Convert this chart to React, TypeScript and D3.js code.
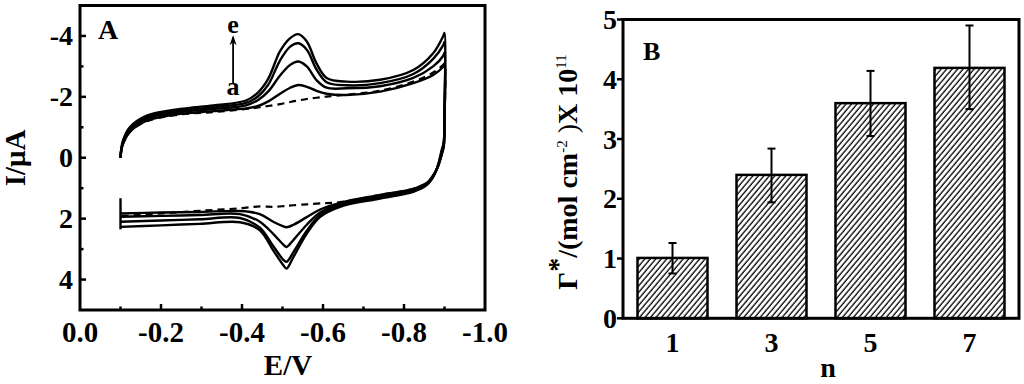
import React from "react";
import * as d3 from "d3";

// ---------- Panel A data (cyclic voltammograms) ----------
const LOOP_E = [
  -0.1, -0.102, -0.107, -0.123, -0.165, -0.247, -0.329, -0.41, -0.44, -0.465, -0.494,
  -0.519, -0.539, -0.56, -0.584, -0.609, -0.658, -0.741, -0.823, -0.872, -0.897, -0.9,
  -0.9, -0.898, -0.893, -0.886, -0.88, -0.868, -0.856, -0.823, -0.741, -0.642, -0.593,
  -0.56, -0.527, -0.51, -0.502, -0.477, -0.444, -0.395, -0.296, -0.2, -0.1,
];
const CURVE_E_I = [
  0, -0.3, -0.6, -1.0, -1.38, -1.6, -1.72, -1.88, -2.15, -2.6, -3.5,
  -3.93, -4.06, -3.82, -3.1, -2.62, -2.5, -2.56, -2.88, -3.43, -4.0, -4.1,
  -1.5, -0.5, -0.25, 0.15, 0.4, 0.72, 0.9, 1.12, 1.34, 1.61, 1.94,
  2.49, 3.26, 3.64, 3.53, 3.04, 2.38, 2.12, 2.17, 2.22, 2.27,
];
const CURVE_D_I = [
  0, -0.28, -0.56, -0.95, -1.33, -1.55, -1.66, -1.8, -2.02, -2.4, -3.2,
  -3.65, -3.76, -3.55, -2.9, -2.48, -2.38, -2.45, -2.75, -3.25, -3.7, -3.8,
  -1.4, -0.45, -0.2, 0.17, 0.4, 0.7, 0.87, 1.08, 1.3, 1.57, 1.88,
  2.4, 3.1, 3.42, 3.35, 2.9, 2.3, 1.98, 2.02, 2.06, 2.1,
];
const CURVE_C_I = [
  0, -0.26, -0.52, -0.9, -1.28, -1.5, -1.6, -1.72, -1.9, -2.18, -2.7,
  -3.05, -3.16, -3.0, -2.55, -2.3, -2.28, -2.35, -2.62, -3.0, -3.35, -3.45,
  -1.3, -0.4, -0.15, 0.2, 0.4, 0.68, 0.85, 1.05, 1.26, 1.52, 1.8,
  2.2, 2.7, 2.93, 2.85, 2.5, 2.1, 1.85, 1.88, 1.91, 1.94,
];
const CURVE_B_I = [
  0, -0.24, -0.48, -0.85, -1.22, -1.44, -1.53, -1.62, -1.7, -1.85, -2.1,
  -2.3, -2.39, -2.33, -2.2, -2.1, -2.06, -2.17, -2.45, -2.72, -2.99, -3.05,
  -1.2, -0.35, -0.1, 0.22, 0.4, 0.66, 0.83, 1.02, 1.22, 1.48, 1.7,
  1.95, 2.2, 2.28, 2.25, 2.1, 1.85, 1.75, 1.78, 1.8, 1.83,
];
const CURVE_A_I = [
  0, -0.24, -0.48, -0.85, -1.2, -1.42, -1.5, -1.6, -1.65, -1.7, -1.76,
  -1.83, -1.88, -1.93, -1.97, -2.01, -2.07, -2.2, -2.5, -2.8, -3.05, -3.1,
  -1.2, -0.35, -0.1, 0.22, 0.4, 0.66, 0.83, 1.02, 1.22, 1.46, 1.5,
  1.53, 1.56, 1.58, 1.59, 1.61, 1.6, 1.66, 1.74, 1.83, 1.92,
];
const START_SEG = [
  [-0.1, 1.33],
  [-0.1, 2.35],
];
const ARROW_E = -0.378;
const ARROW_FROM = -2.45;
const ARROW_TO = -4.02;

const A_X_MAJOR = [0, -0.2, -0.4, -0.6, -0.8, -1.0];
const A_X_LABELS = ["0.0", "-0.2", "-0.4", "-0.6", "-0.8", "-1.0"];
const A_X_MINOR = [-0.1, -0.3, -0.5, -0.7, -0.9];
const A_Y_MAJOR = [-4, -2, 0, 2, 4];
const A_Y_LABELS = ["-4", "-2", "0", "2", "4"];
const A_Y_MINOR = [-3, -1, 1, 3];

// ---------- Panel B data (bar chart) ----------
const N_LABELS = ["1", "3", "5", "7"];
const GAMMA = [1.01, 2.4, 3.6, 4.19];
const ERR_HI = [1.26, 2.84, 4.14, 4.9];
const ERR_LO = [0.75, 1.94, 3.05, 3.5];
const B_Y_TICKS = [0, 1, 2, 3, 4, 5];

const FONT = "'Liberation Serif', 'Times New Roman', serif";

export default function App() {
  // Panel A scales
  const x = d3.scaleLinear().domain([0, -1]).range([80, 485]);
  const y = d3.scaleLinear().domain([-5, 5]).range([5.5, 310]);
  const line = d3
    .line<number>()
    .x((_, i) => x(LOOP_E[i]))
    .y((v) => y(v))
    .curve(d3.curveCatmullRom.alpha(0.5));
  const segLine = d3
    .line<number[]>()
    .x((d) => x(d[0]))
    .y((d) => y(d[1]));
  const solid = [CURVE_B_I, CURVE_C_I, CURVE_D_I, CURVE_E_I];

  // Panel B scales
  const xb = d3
    .scaleBand<string>()
    .domain(N_LABELS)
    .range([623, 1019])
    .paddingInner(0.293)
    .paddingOuter(0.1465);
  const yb = d3.scaleLinear().domain([0, 5]).range([318.3, 19.5]);
  const bw = xb.bandwidth();

  return (
    <svg
      width={1024}
      height={384}
      style={{ position: "absolute", left: 0, top: 0, background: "#fff" }}
      fontFamily={FONT}
      fontWeight="bold"
    >
      <defs>
        <pattern
          id="hatch"
          patternUnits="userSpaceOnUse"
          width={4.2}
          height={10}
          patternTransform="rotate(40)"
        >
          <rect width={4.2} height={10} fill="#fff" />
          <line x1={1} y1={0} x2={1} y2={10} stroke="#000" strokeWidth={1.3} />
        </pattern>
      </defs>
      <rect width={1024} height={384} fill="#fff" />

      {/* ================= Panel A ================= */}
      <g>
        {solid.map((arr, k) => (
          <path key={k} d={line(arr) || ""} fill="none" stroke="#000" strokeWidth={2.4} />
        ))}
        <path
          d={line(CURVE_A_I) || ""}
          fill="none"
          stroke="#000"
          strokeWidth={2.2}
          strokeDasharray="7,5"
        />
        <path d={segLine(START_SEG) || ""} fill="none" stroke="#000" strokeWidth={2.4} />

        {/* arrow a -> e */}
        <line
          x1={x(ARROW_E)}
          x2={x(ARROW_E)}
          y1={y(ARROW_FROM)}
          y2={y(ARROW_TO) + 2}
          stroke="#000"
          strokeWidth={1.8}
        />
        <path
          d={`M${x(ARROW_E)},${y(ARROW_TO)} L${x(ARROW_E) - 3.5},${y(ARROW_TO) + 10} L${x(
            ARROW_E
          )},${y(ARROW_TO) + 7} L${x(ARROW_E) + 3.5},${y(ARROW_TO) + 10} Z`}
          fill="#000"
        />
        <text x={x(ARROW_E)} y={33} textAnchor="middle" fontSize={26}>
          e
        </text>
        <text x={x(ARROW_E)} y={95} textAnchor="middle" fontSize={26}>
          a
        </text>

        <rect x={80} y={5.5} width={405} height={304.5} fill="none" stroke="#000" strokeWidth={3} />

        {A_X_MAJOR.map((v, i) => (
          <g key={"axm" + i}>
            {v > -0.99 && v < -0.01 && (
              <line x1={x(v)} x2={x(v)} y1={310} y2={304} stroke="#000" strokeWidth={2.5} />
            )}
            <text x={x(v)} y={342} textAnchor="middle" fontSize={29}>
              {A_X_LABELS[i]}
            </text>
          </g>
        ))}
        {A_X_MINOR.map((v, i) => (
          <line key={"axn" + i} x1={x(v)} x2={x(v)} y1={310} y2={306.5} stroke="#000" strokeWidth={2.5} />
        ))}
        {A_Y_MAJOR.map((v, i) => (
          <g key={"aym" + i}>
            <line x1={80} x2={86} y1={y(v)} y2={y(v)} stroke="#000" strokeWidth={2.5} />
            <text x={73} y={y(v)} dy="0.34em" textAnchor="end" fontSize={28}>
              {A_Y_LABELS[i]}
            </text>
          </g>
        ))}
        {A_Y_MINOR.map((v, i) => (
          <line key={"ayn" + i} x1={80} x2={83.5} y1={y(v)} y2={y(v)} stroke="#000" strokeWidth={2.5} />
        ))}

        <text x={98} y={38.5} fontSize={28}>
          A
        </text>
        <text x={288} y={375} textAnchor="middle" fontSize={29}>
          E/V
        </text>
        <text transform="translate(25,158) rotate(-90)" textAnchor="middle" fontSize={29}>
          I/μA
        </text>
      </g>

      {/* ================= Panel B ================= */}
      <g>
        {GAMMA.map((v, i) => (
          <rect
            key={"bar" + i}
            x={xb(N_LABELS[i])}
            y={yb(v)}
            width={bw}
            height={yb(0) - yb(v)}
            fill="url(#hatch)"
            stroke="#000"
            strokeWidth={2.5}
          />
        ))}
        {GAMMA.map((v, i) => {
          const cx = (xb(N_LABELS[i]) || 0) + bw / 2;
          return (
            <g key={"err" + i} stroke="#000" strokeWidth={2}>
              <line x1={cx} x2={cx} y1={yb(ERR_HI[i])} y2={yb(ERR_LO[i])} />
              <line x1={cx - 4} x2={cx + 4} y1={yb(ERR_HI[i])} y2={yb(ERR_HI[i])} />
              <line x1={cx - 4} x2={cx + 4} y1={yb(ERR_LO[i])} y2={yb(ERR_LO[i])} />
            </g>
          );
        })}

        <rect x={623} y={19.5} width={396} height={298.8} fill="none" stroke="#000" strokeWidth={3} />

        {B_Y_TICKS.map((v) => (
          <g key={"byt" + v}>
            <line x1={617} x2={623} y1={yb(v)} y2={yb(v)} stroke="#000" strokeWidth={2.5} />
            <text x={617} y={yb(v)} dy="0.34em" textAnchor="end" fontSize={28}>
              {String(v)}
            </text>
          </g>
        ))}
        {N_LABELS.map((n) => (
          <text
            key={"bxt" + n}
            x={(xb(n) || 0) + bw / 2}
            y={352}
            textAnchor="middle"
            fontSize={28}
          >
            {n}
          </text>
        ))}
        <text x={828} y={377} textAnchor="middle" fontSize={28}>
          n
        </text>
        <text x={643} y={60} fontSize={26}>
          B
        </text>
        <text transform="translate(577,172) rotate(-90)" textAnchor="middle" fontSize={28}>
          <tspan>Γ</tspan>
          <tspan dy={-10}>*</tspan>
          <tspan dy={10}>/(mol cm</tspan>
          <tspan dy={-10} fontSize={15} fontWeight="normal">
            -2
          </tspan>
          <tspan dy={10} fontWeight="normal">
            {" )"}
          </tspan>
          <tspan>X 10</tspan>
          <tspan dy={-11} fontSize={15} fontWeight="normal">
            11
          </tspan>
        </text>
      </g>
    </svg>
  );
}
